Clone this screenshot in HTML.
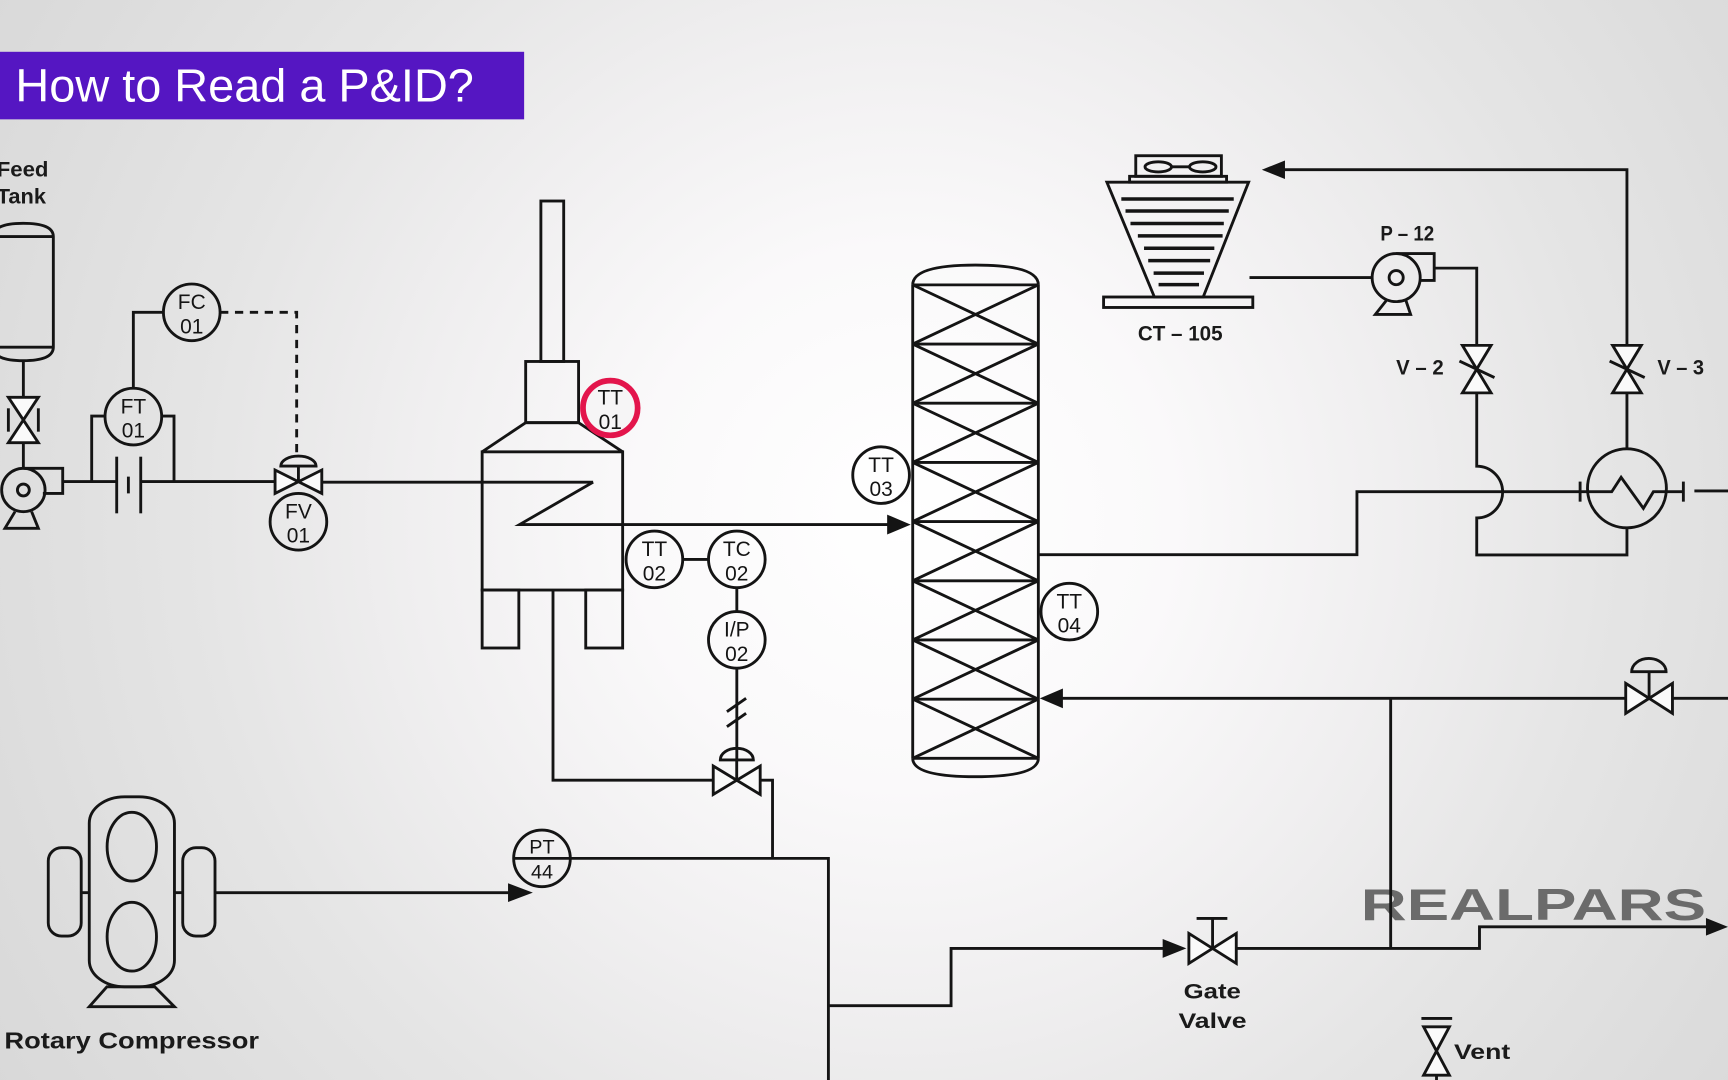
<!DOCTYPE html>
<html><head><meta charset="utf-8"><style>
html,body{margin:0;padding:0;width:1728px;height:1080px;overflow:hidden;background:#e4e4e4}
svg{display:block}
text{font-family:"Liberation Sans",Arial,sans-serif}
</style></head><body>
<svg width="1728" height="1080" viewBox="0 0 1568 980" xmlns="http://www.w3.org/2000/svg">
<defs>
<radialGradient id="bg" gradientUnits="userSpaceOnUse" cx="820" cy="470" r="980">
<stop offset="0" stop-color="#ffffff"/>
<stop offset="0.25" stop-color="#faf9fa"/>
<stop offset="0.45" stop-color="#f0eff0"/>
<stop offset="0.65" stop-color="#e5e5e5"/>
<stop offset="0.85" stop-color="#dddddd"/>
<stop offset="1" stop-color="#d8d8d8"/>
</radialGradient>
</defs>
<rect x="0" y="0" width="1568" height="980" fill="url(#bg)"/>

<!-- Title -->
<rect x="0" y="47" width="475.6" height="61.3" fill="#5516c2"/>
<text x="14" y="92.3" font-size="41.7" fill="#ffffff" textLength="416" lengthAdjust="spacingAndGlyphs">How to Read a P&amp;ID?</text>

<!-- RealPars logo -->
<text x="1234.8" y="834.9" font-size="40" font-weight="bold" fill="#6b6b6b" textLength="313.3" lengthAdjust="spacingAndGlyphs">REALPARS</text>

<g fill="none" stroke="#141414" stroke-width="2.6" stroke-linejoin="miter">
<!-- Feed tank -->
<path d="M-6,214.7 Q-6,202.6 21,202.6 Q48.4,202.6 48.4,214.7 L48.4,315 Q48.4,327.3 21,327.3 Q-6,327.3 -6,315 Z"/>
<line x1="-6" y1="214.7" x2="48.4" y2="214.7"/>
<line x1="-6" y1="315" x2="48.4" y2="315"/>
<line x1="21.2" y1="327.3" x2="21.2" y2="360.5"/>
<path d="M7.6,360.5 L34.8,360.5 L7.6,401.7 L34.8,401.7 Z" fill="#fafafa"/>
<line x1="7.6" y1="370.5" x2="7.6" y2="391.7"/>
<line x1="34.8" y1="370.5" x2="34.8" y2="391.7"/>
<line x1="21.2" y1="401.7" x2="21.2" y2="425"/>
<!-- feed pump -->
<circle cx="21.2" cy="444.6" r="19.7"/>
<circle cx="21.2" cy="444.6" r="5.4"/>
<path d="M21.2,424.9 L56.9,424.9 L56.9,447.7 L38.9,447.7"/>
<path d="M13.6,464.3 L4.5,479.4 L34.8,479.4 L28.7,464.3"/>
<!-- main line -->
<line x1="56.9" y1="437" x2="105.9" y2="437"/>
<line x1="127.7" y1="437" x2="249.6" y2="437"/>
<line x1="105.9" y1="414.4" x2="105.9" y2="465.8"/>
<line x1="127.7" y1="414.4" x2="127.7" y2="465.8"/>
<line x1="116.5" y1="432.5" x2="116.5" y2="447.7"/>
<path d="M83.2,437 L83.2,377.5 L95.3,377.5"/>
<path d="M157.9,437 L157.9,377.5 L146.7,377.5"/>
<circle cx="121" cy="378" r="25.7"/>
<path d="M121,352.3 L121,283.4 L148.3,283.4"/>
<circle cx="174" cy="283.4" r="25.7"/>
<path d="M199.7,283.4 L269.2,283.4 L269.2,413" stroke-dasharray="7.5,6"/>
<!-- FV -->
<path d="M254.8,422.9 A16,9.1 0 0 1 286.8,422.9 Z"/>
<line x1="270.8" y1="422.9" x2="270.8" y2="437"/>
<path d="M249.6,426.5 L292,447.7 L292,426.5 L249.6,447.7 Z" fill="#fafafa"/>
<circle cx="270.8" cy="473.4" r="25.7"/>
<line x1="292" y1="437.5" x2="538.2" y2="437.5"/>

<!-- Heater -->
<rect x="490.8" y="182.4" width="20.7" height="145.6"/>
<rect x="477" y="328" width="48" height="55.5"/>
<path d="M437.5,410 L477,383.5 L525,383.5 L565,410"/>
<rect x="437.5" y="410" width="127.5" height="125.4"/>
<rect x="437.5" y="535.4" width="33.3" height="52.6"/>
<rect x="531.5" y="535.4" width="33.5" height="52.6"/>
<path d="M538.2,437.5 L471.5,476 L806,476"/>
<circle cx="553.8" cy="370.2" r="24.8" stroke="#e3154c" stroke-width="5.2" fill="#f6f5f6"/>
<!-- TT02 / TC02 / IP02 -->
<circle cx="593.8" cy="507.6" r="25.7"/>
<line x1="619.5" y1="507.6" x2="642.9" y2="507.6"/>
<circle cx="668.6" cy="507.6" r="25.7"/>
<line x1="668.6" y1="533.3" x2="668.6" y2="554.9"/>
<circle cx="668.6" cy="580.6" r="25.7"/>
<line x1="668.6" y1="606.3" x2="668.6" y2="689.6"/>
<line x1="659.6" y1="645.8" x2="677" y2="633.7"/>
<line x1="659.6" y1="659.4" x2="677" y2="647.3"/>
<path d="M653.6,689.6 A15,10.6 0 0 1 683.6,689.6 Z"/>
<line x1="668.5" y1="689.6" x2="668.5" y2="708"/>
<path d="M647.2,695.1 L689.8,720.9 L689.8,695.1 L647.2,720.9 Z" fill="#fafafa"/>
<path d="M501.8,535.4 L501.8,708 L647.2,708"/>
<path d="M689.8,708 L701,708 L701,778.9"/>

<!-- Column -->
<path d="M828.2,258.5 Q828.2,240.5 885.2,240.5 Q942.2,240.5 942.2,258.5"/>
<path d="M828.2,688.1 Q828.2,704.8 885.2,704.8 Q942.2,704.8 942.2,688.1"/>
<line x1="828.2" y1="258.5" x2="828.2" y2="688.1"/>
<line x1="942.2" y1="258.5" x2="942.2" y2="688.1"/>
<path d="M828.2,258.5H942.2M828.2,312.2H942.2M828.2,365.9H942.2M828.2,419.6H942.2M828.2,473.3H942.2M828.2,527H942.2M828.2,580.7H942.2M828.2,634.4H942.2M828.2,688.1H942.2"/>
<path d="M828.2,258.5L942.2,312.2M942.2,258.5L828.2,312.2M828.2,312.2L942.2,365.9M942.2,312.2L828.2,365.9M828.2,365.9L942.2,419.6M942.2,365.9L828.2,419.6M828.2,419.6L942.2,473.3M942.2,419.6L828.2,473.3M828.2,473.3L942.2,527M942.2,473.3L828.2,527M828.2,527L942.2,580.7M942.2,527L828.2,580.7M828.2,580.7L942.2,634.4M942.2,580.7L828.2,634.4M828.2,634.4L942.2,688.1M942.2,634.4L828.2,688.1"/>
<circle cx="799.5" cy="431.1" r="25.7"/>
<circle cx="970.3" cy="555" r="25.7"/>
<line x1="963" y1="633.7" x2="1475.2" y2="633.7"/>

<!-- Column outlet to exchanger -->
<path d="M942.2,503.3 L1231.3,503.3 L1231.3,446.2 L1433.8,446.2"/>
<circle cx="1476.3" cy="443.1" r="35.8"/>
<path d="M1433.8,446.2 L1462.5,446.2 L1471,433.1 L1491.2,461.3 L1500.3,446.2 L1527.5,446.2"/>
<line x1="1433.8" y1="437" x2="1433.8" y2="455.2"/>
<line x1="1527.5" y1="437" x2="1527.5" y2="455.2"/>
<line x1="1537.5" y1="445.5" x2="1570" y2="445.5"/>

<!-- Cooling tower -->
<rect x="1030.6" y="141.3" width="77.7" height="18.7"/>
<ellipse cx="1051" cy="151.4" rx="12" ry="4.6"/>
<ellipse cx="1091.4" cy="151.4" rx="12" ry="4.6"/>
<line x1="1063" y1="151.4" x2="1079.4" y2="151.4"/>
<rect x="1025" y="160" width="88" height="5.3"/>
<path d="M1004.4,165.3 L1133,165.3 L1091.8,269.5 L1047.5,269.5 Z"/>
<rect x="1001.4" y="269.5" width="135.4" height="9.5"/>
<g stroke-width="3.2">
<line x1="1017.5" y1="180.6" x2="1119.5" y2="180.6"/>
<line x1="1021.3" y1="191.5" x2="1115" y2="191.5"/>
<line x1="1025.8" y1="202.8" x2="1110.5" y2="202.8"/>
<line x1="1032.5" y1="214" x2="1109.4" y2="214"/>
<line x1="1038.1" y1="225.3" x2="1101.9" y2="225.3"/>
<line x1="1041.9" y1="236.5" x2="1098.1" y2="236.5"/>
<line x1="1046.8" y1="247.8" x2="1092.5" y2="247.8"/>
<line x1="1051.3" y1="258.3" x2="1088" y2="258.3"/>
</g>
<line x1="1133.8" y1="251.9" x2="1245.1" y2="251.9"/>
<!-- P-12 -->
<circle cx="1266.9" cy="251.9" r="21.8"/>
<circle cx="1266.9" cy="251.9" r="6.4"/>
<path d="M1266.9,230.1 L1301.4,230.1 L1301.4,254.5 L1288.5,254.5"/>
<path d="M1258.5,272 L1248,285.3 L1280,285.3 L1275.5,272"/>
<path d="M1301.4,243.3 L1340,243.3 L1340,313.4"/>
<!-- V-2 -->
<path d="M1327,313.4 L1353,313.4 L1327,356.5 L1353,356.5 Z" fill="#fafafa"/>
<line x1="1324.3" y1="327.6" x2="1356.1" y2="342.6"/>
<path d="M1340,356.5 L1340,423 A23.5,23.5 0 0 1 1340,470 L1340,503.6 L1476.3,503.6 L1476.3,478.9"/>
<!-- V-3 -->
<path d="M1476.3,407.3 L1476.3,356.5"/>
<path d="M1463.3,313.4 L1489.3,313.4 L1463.3,356.5 L1489.3,356.5 Z" fill="#fafafa"/>
<line x1="1460.6" y1="327.6" x2="1492.4" y2="342.6"/>
<path d="M1476.3,313.4 L1476.3,154 L1165,154"/>

<!-- right control valve -->
<path d="M1480.6,609.5 A15.6,12 0 0 1 1511.8,609.5 Z"/>
<line x1="1496.4" y1="609.5" x2="1496.4" y2="633.7"/>
<path d="M1475.2,620.1 L1517.6,647.3 L1517.6,620.1 L1475.2,647.3 Z" fill="#fafafa"/>
<line x1="1517.6" y1="633.7" x2="1570" y2="633.7"/>

<!-- Rotary compressor -->
<rect x="81" y="723" width="77.3" height="172.4" rx="32" ry="24"/>
<ellipse cx="119.6" cy="768.3" rx="22.4" ry="31.2"/>
<ellipse cx="119.6" cy="850" rx="22.4" ry="31.2"/>
<rect x="43.8" y="769.2" width="29.9" height="80.2" rx="12" ry="12"/>
<rect x="165.8" y="769.2" width="29.3" height="80.2" rx="12" ry="12"/>
<line x1="73.7" y1="810" x2="81" y2="810"/>
<line x1="158.3" y1="810" x2="165.8" y2="810"/>
<path d="M97,895.4 L81,913.5 L158.3,913.5 L140.4,895.4 Z"/>
<line x1="195.1" y1="810" x2="462" y2="810"/>
<!-- PT44 -->
<circle cx="491.8" cy="778.9" r="25.7"/>
<path d="M466.1,778.9 L751.7,778.9 L751.7,985"/>
<path d="M751.7,912.6 L863,912.6 L863,860.6 L1056,860.6"/>
<!-- gate valve -->
<line x1="1100.3" y1="833.4" x2="1100.3" y2="860.6"/>
<line x1="1085.8" y1="833.4" x2="1113.7" y2="833.4"/>
<path d="M1078.8,847 L1121.8,874.2 L1121.8,847 L1078.8,874.2 Z" fill="#fafafa"/>
<path d="M1121.8,860.6 L1342.5,860.6 L1342.5,841 L1549,841"/>
<line x1="1261.9" y1="633.7" x2="1261.9" y2="860.6"/>
<!-- vent -->
<line x1="1289.8" y1="924.1" x2="1317.7" y2="924.1"/>
<path d="M1291.8,931.7 L1315.2,931.7 L1291.8,975.6 L1315.2,975.6 Z" fill="#fafafa"/>
<line x1="1303.5" y1="975.6" x2="1303.5" y2="985"/>
</g>

<!-- Arrowheads -->
<g fill="#141414">
<path d="M826.4,476 L805,467 L805,485 Z"/>
<path d="M943.5,633.7 L964.5,624.7 L964.5,642.7 Z"/>
<path d="M1145,154 L1166,145.6 L1166,162.4 Z"/>
<path d="M483.5,810 L461,801.5 L461,818.5 Z"/>
<path d="M1076.5,860.6 L1055,852 L1055,869.2 Z"/>
<path d="M1568,841 L1548,833 L1548,849 Z"/>
</g>

<!-- Instrument labels -->
<g font-size="19" fill="#141414" text-anchor="middle">
<text x="174" y="280.4">FC</text><text x="174" y="302.4">01</text>
<text x="121" y="375">FT</text><text x="121" y="397">01</text>
<text x="270.8" y="470.4">FV</text><text x="270.8" y="492.4">01</text>
<text x="553.8" y="367.2">TT</text><text x="553.8" y="389.2">01</text>
<text x="593.8" y="504.6">TT</text><text x="593.8" y="526.6">02</text>
<text x="668.6" y="504.6">TC</text><text x="668.6" y="526.6">02</text>
<text x="668.6" y="577.6">I/P</text><text x="668.6" y="599.6">02</text>
<text x="799.5" y="428.1">TT</text><text x="799.5" y="450.1">03</text>
<text x="970.3" y="552">TT</text><text x="970.3" y="574">04</text>
<text x="491.8" y="774.6" font-size="18">PT</text><text x="491.8" y="797" font-size="18">44</text>
</g>

<!-- Equipment labels -->
<g font-weight="bold" fill="#1a1a1a">
<text x="-3" y="160.3" font-size="19" textLength="47" lengthAdjust="spacingAndGlyphs">Feed</text>
<text x="-3" y="184.5" font-size="19" textLength="44.7" lengthAdjust="spacingAndGlyphs">Tank</text>
<text x="4" y="951.3" font-size="21" textLength="231" lengthAdjust="spacingAndGlyphs">Rotary Compressor</text>
<text x="1074" y="906" font-size="19.5" textLength="52" lengthAdjust="spacingAndGlyphs">Gate</text>
<text x="1069.4" y="933" font-size="19.5" textLength="61.8" lengthAdjust="spacingAndGlyphs">Valve</text>
<text x="1319.4" y="961" font-size="19.5" textLength="51" lengthAdjust="spacingAndGlyphs">Vent</text>
<text x="1032.5" y="309" font-size="19.5" textLength="76.9" lengthAdjust="spacingAndGlyphs">CT – 105</text>
<text x="1252.6" y="218.1" font-size="19.5" textLength="48.8" lengthAdjust="spacingAndGlyphs">P – 12</text>
<text x="1266.9" y="340" font-size="19.5" textLength="43.1" lengthAdjust="spacingAndGlyphs">V – 2</text>
<text x="1503.9" y="340" font-size="19.5" textLength="42.4" lengthAdjust="spacingAndGlyphs">V – 3</text>
</g>
</svg>
</body></html>
